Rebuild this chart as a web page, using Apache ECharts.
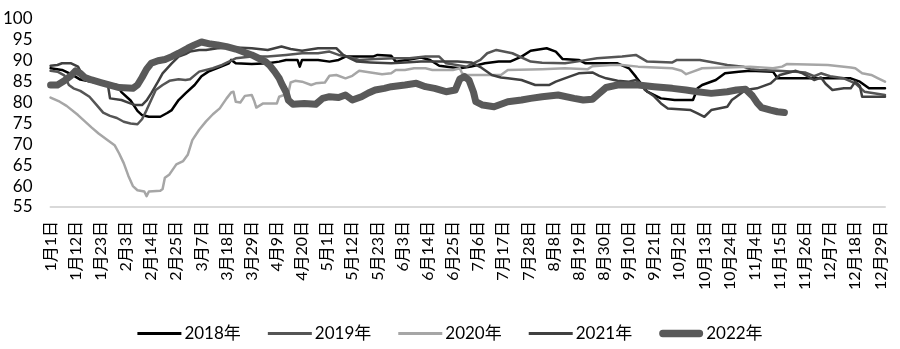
<!DOCTYPE html>
<html><head><meta charset="utf-8">
<script src="https://cdn.jsdelivr.net/npm/echarts@6/dist/echarts.min.js"></script>
<style>html,body{margin:0;padding:0;background:#fff}#c{width:900px;height:349px}</style>
</head><body><div id="c"></div>
<script>
// tick labels every 11 days (leap-year calendar, day index 0 = 1月1日)
const tickLabels = ["1月1日","1月12日","1月23日","2月3日","2月14日","2月25日","3月7日","3月18日","3月29日","4月9日","4月20日","5月1日","5月12日","5月23日","6月3日","6月14日","6月25日","7月6日","7月17日","7月28日","8月8日","8月19日","8月30日","9月10日","9月21日","10月2日","10月13日","10月24日","11月4日","11月15日","11月26日","12月7日","12月18日","12月29日"];
const yTicks = [55,60,65,70,75,80,85,90,95,100];
const seriesNames = ["2018年","2019年","2020年","2021年","2022年"];

// [day index, value]
const s2018 = [[0,88.2],[5,87.8],[9,86.8],[13,85.5],[18,85],[24,84.5],[29,84.2],[31,82.5],[35,80.5],[38,78],[40,77],[43,76.6],[48,76.6],[51,77.5],[53,78.2],[56,80.6],[59,82.2],[63,84.2],[66,86.3],[69,87.4],[74,88.5],[78,89.4],[79,90.2],[81,89.4],[88,89.2],[95,89.4],[100,89.8],[103,90.2],[108,90.2],[109,88.6],[110,90.2],[117,90.2],[122,89.8],[126,90.2],[129,91],[141,91],[143,91.4],[149,91.2],[151,89.8],[157,90.3],[162,90.8],[166,90.2],[170,88.8],[176,88.4],[179,88.2],[184,88.6],[190,89.4],[196,89.8],[201,89.8],[206,91],[210,92.4],[217,93],[221,92.2],[224,90.4],[231,90.2],[234,89.4],[248,89.4],[253,88.2],[256,86.2],[261,82.6],[267,81],[273,80.6],[281,80.6],[283,83.4],[285,84.2],[291,85.4],[295,87],[301,87.4],[306,87.6],[316,87.4],[318,85.8],[350,85.8],[354,85],[358,83.4],[365,83.4]];
const s2019 = [[0,87.6],[3,87.4],[6,86.5],[8,84.2],[10,83.4],[13,82.8],[17,81.4],[20,79.5],[23,77.6],[26,76.8],[29,76.3],[32,75.4],[35,75],[38,74.8],[40,76],[42,78.2],[44,80.6],[46,83],[49,84.2],[52,85.2],[56,85.6],[59,85.4],[61,85.6],[63,86.5],[65,87.4],[71,88.2],[75,89],[78,89.8],[81,90.6],[88,91],[95,91],[103,91.4],[110,91.8],[117,91.8],[122,92.2],[126,91.4],[130,91],[135,90.2],[142,90.4],[150,90.6],[157,90.6],[164,91],[170,91],[173,89.4],[182,88.6],[188,90.2],[191,91.8],[195,92.6],[202,91.8],[210,89.8],[215,89.5],[225,89.4],[230,89.8],[239,90.6],[250,91],[256,91.4],[261,89.8],[272,89.6],[274,90.2],[284,90.2],[290,89.6],[296,89],[303,88.6],[306,88],[310,87.8],[318,87.6],[326,87.4],[330,87.2],[334,86.3],[337,87],[341,86.3],[347,85.8],[352,84.6],[356,82.6],[365,81.8]];
const s2020 = [[0,81.2],[4,80.2],[7,79.2],[12,77],[15,75.5],[18,74],[21,72.6],[25,71],[28,69.8],[30,67.8],[32,65.5],[34,62.5],[36,60],[38,59],[41,58.7],[42,57.6],[43,58.7],[48,58.9],[49,59.3],[50,62],[52,62.8],[55,65.2],[58,66],[60,67.5],[62,71],[65,73.5],[68,75.5],[71,77.2],[74,78.6],[77,81],[79,82.4],[80,82.6],[81,80.2],[83,80],[85,81.6],[88,81.8],[89,80.5],[90,78.8],[93,79.8],[99,79.8],[100,81.4],[104,82.2],[105,84.8],[107,85.2],[110,85],[114,84.2],[116,84.6],[120,84.8],[122,86.4],[125,86.6],[129,85.8],[132,86.4],[135,87.6],[140,87.2],[145,86.8],[149,87],[151,87.8],[155,87.8],[159,88.2],[164,88.2],[167,87.8],[176,87.8],[179,88.2],[180,87],[182,86.6],[197,86.6],[200,87.8],[215,88],[225,88.2],[235,88],[237,88.7],[245,89],[250,89],[257,88.6],[272,88.2],[276,87.6],[278,86.8],[281,87.4],[285,88.2],[306,88.6],[316,88.2],[320,88.6],[322,89.2],[340,89],[350,88.4],[352,88.2],[355,87],[359,86.6],[362,85.8],[365,85]];
const s2021 = [[0,88.8],[3,89],[5,89.4],[9,89.4],[12,88.6],[14,86.5],[16,85.2],[20,84.8],[25,84.5],[26,81],[31,80.6],[34,80],[37,79.4],[40,79.4],[42,80.5],[44,82.2],[47,85],[49,87],[51,88.2],[53,89.4],[56,91],[59,91.6],[61,92.2],[65,92.6],[68,92.6],[73,93],[81,93.2],[88,93],[95,92.6],[101,93.4],[105,92.8],[110,92.4],[117,93],[121,93],[125,93],[128,91.4],[131,90.6],[134,89.8],[140,89.6],[149,89.4],[155,89.6],[162,89.8],[170,89.8],[178,89.8],[184,89.6],[188,88.5],[193,86.6],[197,86],[200,85.8],[206,85.4],[212,84.2],[218,84.2],[221,85],[227,86.2],[231,87],[237,87.2],[240,86.4],[243,85.8],[248,85.2],[253,85],[256,85.4],[258,84.6],[260,83],[264,81.5],[267,79.8],[270,78.6],[280,78.2],[283,77.4],[286,76.6],[289,78.2],[296,79],[298,80.6],[300,81.4],[304,83],[309,83.4],[315,84.6],[319,86.6],[326,87.6],[329,87],[334,85.4],[337,86],[339,84.5],[342,83],[347,83.4],[350,83.4],[352,85],[354,84],[355,81.4],[365,81.4]];
const s2022 = [[0,84.2],[3,84.2],[6,85.2],[9,86.5],[11,87.6],[13,87],[15,86],[18,85.4],[22,84.8],[26,84.2],[30,83.6],[36,83.4],[38,84.2],[40,86],[42,88],[44,89.4],[47,90],[50,90.3],[53,91],[56,91.8],[58,92.4],[60,93],[63,93.8],[66,94.5],[70,94],[73,93.8],[77,93.4],[81,92.8],[85,92],[88,91.4],[91,90.6],[94,89.8],[96,88.8],[98,87.4],[100,85.8],[101,84.6],[103,82.5],[104,80.6],[106,79.6],[111,79.8],[116,79.6],[119,81],[122,81.4],[126,81.2],[129,81.8],[132,80.6],[136,81.4],[139,82.3],[142,83],[146,83.4],[149,83.8],[155,84.2],[160,84.6],[164,83.8],[168,83.4],[173,82.6],[177,83],[179,85.6],[181,86.2],[183,85.4],[185,82.5],[186,80.2],[189,79.4],[194,79],[200,80.2],[206,80.6],[210,81],[215,81.4],[222,81.8],[229,81],[233,80.6],[237,80.8],[240,82.2],[243,83.6],[248,84.2],[257,84.2],[264,83.8],[272,83.4],[278,83],[283,82.6],[289,82.2],[296,82.6],[300,83],[304,83.2],[307,81.6],[309,80],[311,78.8],[315,78.2],[318,77.8],[321,77.6]];

const seriesData = [s2018, s2019, s2020, s2021, s2022];
const colors = ["#000000","#555555","#a6a6a6","#404040","#595959"];
const widths = [2.5,2.5,2.5,2.5,7];
const FONT = 'Lato, "Noto Sans CJK SC", sans-serif';
const thinIcon = 'path://M0,0L42,0L42,3L0,3Z';
const thickIcon = 'path://M3.5,0L38.5,0A3.5,3.5 0 0 1 38.5,7L3.5,7A3.5,3.5 0 0 1 3.5,0Z';

const chart = echarts.init(document.getElementById('c'), null, {renderer:'canvas'});
chart.setOption({
  animation:false,
  backgroundColor:'#fff',
  grid:{left:50,right:15,top:19,bottom:142,containLabel:false},
  legend:{
    data:seriesNames.map((n,i)=>({name:n, icon:(i===4?thickIcon:thinIcon)})),
    top:320, left:'center', itemGap:27, itemWidth:44, itemHeight:10,
    textStyle:{fontFamily:FONT,fontSize:17,color:'#000',padding:[0,0,0,-2]}
  },
  xAxis:{
    type:'value', min:0, max:365, interval:11,
    axisLine:{show:true,lineStyle:{color:'#d9d9d9',width:2}},
    axisTick:{show:false}, splitLine:{show:false},
    axisLabel:{
      rotate:90, margin:14, fontFamily:FONT, fontSize:16, color:'#000',
      showMaxLabel:false,
      formatter:function(v){ const i=Math.round(v/11); return (v%11===0 && tickLabels[i])?tickLabels[i]:''; }
    }
  },
  yAxis:{
    type:'value', min:yTicks[0], max:yTicks[yTicks.length-1], interval:5,
    axisLine:{show:false}, axisTick:{show:false}, splitLine:{show:false},
    axisLabel:{margin:18, fontFamily:FONT, fontSize:17, color:'#000'}
  },
  series: seriesNames.map((n,i)=>({
    name:n, type:'line', data:seriesData[i], showSymbol:false, symbol:'none',
    lineStyle:{color:colors[i], width:widths[i], cap:'round', join:'round'},
    itemStyle:{color:colors[i]}
  }))
});
</script></body></html>
